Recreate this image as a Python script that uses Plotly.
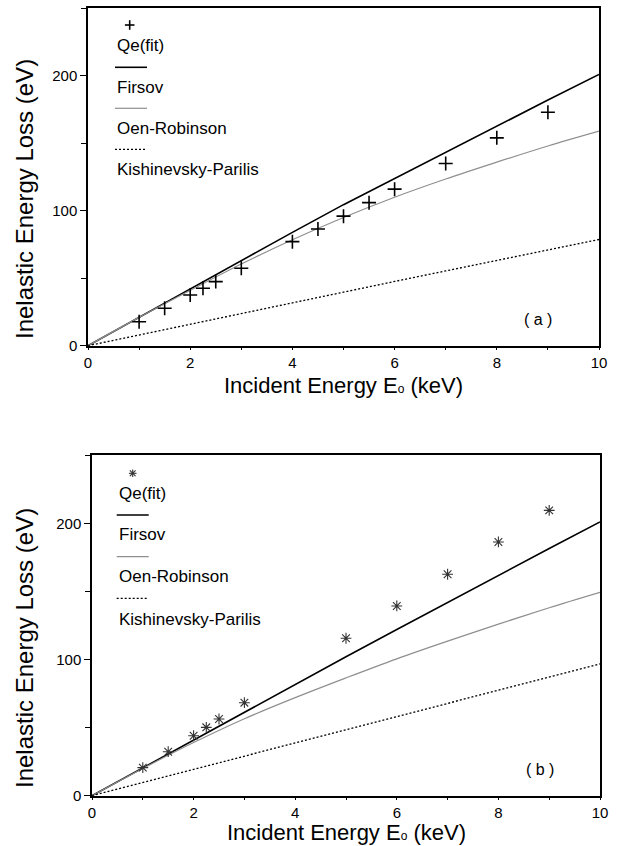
import plotly.graph_objects as go

# ---------------- data ----------------
# panel (a)
qe_a_x = [1, 1.5, 2, 2.25, 2.5, 3, 4, 4.5, 5, 5.5, 6, 7, 8, 9]
qe_a_y = [17.8, 27.7, 37.6, 42.6, 47.5, 57.4, 77.1, 86.5, 96, 106, 116, 135, 154, 173]
e_grid = [0, 1, 2, 3, 4, 5, 6, 7, 8, 9, 10]
firsov_a = [0, 21, 42.5, 63.5, 84, 104.5, 124, 143.5, 163, 182, 201]
oen_a = [0, 21, 41, 60.5, 78.5, 95, 110, 123.5, 136, 148, 159]
kp_a = [0, 8, 16, 24, 32, 39.8, 47.6, 55.4, 63.2, 71, 78.7]

# panel (b)
qe_b_x = [1, 1.5, 2, 2.25, 2.5, 3, 5, 6, 7, 8, 9]
qe_b_y = [20.6, 32.3, 44, 50.2, 56.3, 68.3, 115.6, 139.3, 162.6, 186.3, 209.5]
firsov_b = [0, 20.5, 41, 61.5, 82, 102, 122, 142, 162, 181.5, 201]
oen_b = [0, 20, 39, 56.5, 72, 86.5, 100.5, 113.5, 126, 138, 149.3]
kp_b = [0, 9.7, 19.4, 29.1, 38.9, 48.5, 58.2, 67.9, 77.5, 87.2, 96.8]

legend_names = ["Qe(fit)", "Firsov", "Oen-Robinson", "Kishinevsky-Parilis"]
x_tick_vals = [0, 2, 4, 6, 8, 10]
y_tick_vals = [0, 100, 200]
x_title = "Incident Energy E<span style='font-size:12px'>o</span> (keV)"
y_title = "Inelastic Energy Loss (eV)"
panel_labels = ["( a )", "( b )"]

# ---------------- styling ----------------
W, H = 618, 846
FONT = "Liberation Sans, Arial, Helvetica, sans-serif"
FIRSOV = dict(color="black", width=1.6)
OEN = dict(color="#8f8f8f", width=1.2)
KP = dict(color="black", width=1.3, dash="2px,2px")
STAR_COLOR = "#333333"


def px(x):
    return x / W


def py(y):
    return 1 - y / H


fig = go.Figure()

# panel (a)
fig.add_trace(go.Scatter(x=e_grid, y=firsov_a, mode="lines", line=FIRSOV, xaxis="x", yaxis="y", showlegend=False))
fig.add_trace(go.Scatter(x=e_grid, y=oen_a, mode="lines", line=OEN, line_shape="spline", xaxis="x", yaxis="y", showlegend=False))
fig.add_trace(go.Scatter(x=e_grid, y=kp_a, mode="lines", line=KP, xaxis="x", yaxis="y", showlegend=False))
fig.add_trace(go.Scatter(x=qe_a_x, y=qe_a_y, mode="markers",
                         marker=dict(symbol="cross-thin", size=10, color="black",
                                     line=dict(color="black", width=1.6)),
                         xaxis="x", yaxis="y", showlegend=False))

# panel (b)
fig.add_trace(go.Scatter(x=e_grid, y=firsov_b, mode="lines", line=FIRSOV, xaxis="x2", yaxis="y2", showlegend=False))
fig.add_trace(go.Scatter(x=e_grid, y=oen_b, mode="lines", line=OEN, line_shape="spline", xaxis="x2", yaxis="y2", showlegend=False))
fig.add_trace(go.Scatter(x=e_grid, y=kp_b, mode="lines", line=KP, xaxis="x2", yaxis="y2", showlegend=False))
fig.add_trace(go.Scatter(x=qe_b_x, y=qe_b_y, mode="markers",
                         marker=dict(symbol="asterisk-open", size=9, color=STAR_COLOR,
                                     line=dict(color=STAR_COLOR, width=1.1)),
                         xaxis="x2", yaxis="y2", showlegend=False))

axis_common = dict(showline=True, linecolor="black", linewidth=1.5, mirror=True,
                   showgrid=False, zeroline=False, ticks="outside",
                   tickwidth=1.2, tickcolor="black",
                   tickfont=dict(family=FONT, size=15, color="black"), automargin=False)

xa = dict(axis_common, range=[0, 10], tickvals=x_tick_vals, ticklen=3,
          minor=dict(dtick=1, tick0=0, ticks="outside", ticklen=3, tickcolor="black", tickwidth=1.2))
ya = dict(axis_common, range=[0, 250], tickvals=y_tick_vals, ticklen=6,
          minor=dict(dtick=50, tick0=0, ticks="outside", ticklen=5, tickcolor="black", tickwidth=1.2))

# pixel geometry of the two plot areas
top = dict(l=88, r=599, t=8.3, b=345.7)
bot = dict(l=92, r=600, t=455.2, b=795.7)

fig.update_layout(
    width=W, height=H,
    margin=dict(l=0, r=0, t=0, b=0),
    paper_bgcolor="white", plot_bgcolor="white",
    font=dict(family=FONT, color="black"),
    xaxis=dict(xa, domain=[px(top["l"]), px(top["r"])], anchor="y"),
    yaxis=dict(ya, domain=[py(top["b"]), py(top["t"])], anchor="x"),
    xaxis2=dict(xa, domain=[px(bot["l"]), px(bot["r"])], anchor="y2"),
    yaxis2=dict(ya, domain=[py(bot["b"]), py(bot["t"])], anchor="x2"),
)

annotations = []
shapes = []


def text(x, y, s, size, xanchor="left", angle=0):
    annotations.append(dict(x=px(x), y=py(y), xref="paper", yref="paper", text=s,
                            showarrow=False, xanchor=xanchor, yanchor="middle",
                            textangle=angle, font=dict(family=FONT, size=size, color="black")))


def seg(x0, y0, x1, y1, line):
    shapes.append(dict(type="line", xref="paper", yref="paper",
                       x0=px(x0), y0=py(y0), x1=px(x1), y1=py(y1), line=line))


# axis titles
text(343.5, 385, x_title, 22, xanchor="center")
text(346, 832, x_title, 22, xanchor="center")
text(24, 199, y_title, 24, xanchor="center", angle=-90)
text(24, 648, y_title, 24, xanchor="center", angle=-90)

# panel labels
text(538, 319, panel_labels[0], 16, xanchor="center")
text(540, 769, panel_labels[1], 16, xanchor="center")

# legend (a)
cx, cy = 129.7, 25
seg(cx - 4.8, cy, cx + 4.8, cy, dict(color="black", width=1.6))
seg(cx, cy - 4.8, cx, cy + 4.8, dict(color="black", width=1.6))
lx, ys = 115, [46, 67.3, 87.3, 108.3, 128.3, 149.3, 169.3]
text(lx, ys[0], legend_names[0], 17)
seg(lx, ys[1], lx + 32, ys[1], FIRSOV)
text(lx, ys[2], legend_names[1], 17)
seg(lx, ys[3], lx + 32, ys[3], OEN)
text(lx, ys[4], legend_names[2], 17)
seg(lx, ys[5], lx + 32, ys[5], KP)
text(lx, ys[6], legend_names[3], 17)

# legend (b)
cx, cy, r = 132.7, 473.3, 3.8
star = dict(color=STAR_COLOR, width=1.1)
seg(cx - r, cy, cx + r, cy, star)
seg(cx, cy - r, cx, cy + r, star)
seg(cx - r * 0.75, cy - r * 0.75, cx + r * 0.75, cy + r * 0.75, star)
seg(cx - r * 0.75, cy + r * 0.75, cx + r * 0.75, cy - r * 0.75, star)
lx, ys = 116.7, [493.3, 515, 534.3, 556.7, 576.7, 598.3, 619]
text(lx, ys[0], legend_names[0], 17)
seg(lx, ys[1], lx + 32, ys[1], FIRSOV)
text(lx, ys[2], legend_names[1], 17)
seg(lx, ys[3], lx + 32, ys[3], OEN)
text(lx, ys[4], legend_names[2], 17)
seg(lx, ys[5], lx + 32, ys[5], KP)
text(lx, ys[6], legend_names[3], 17)

fig.update_layout(annotations=annotations, shapes=shapes)

fig.write_html("out.html")
